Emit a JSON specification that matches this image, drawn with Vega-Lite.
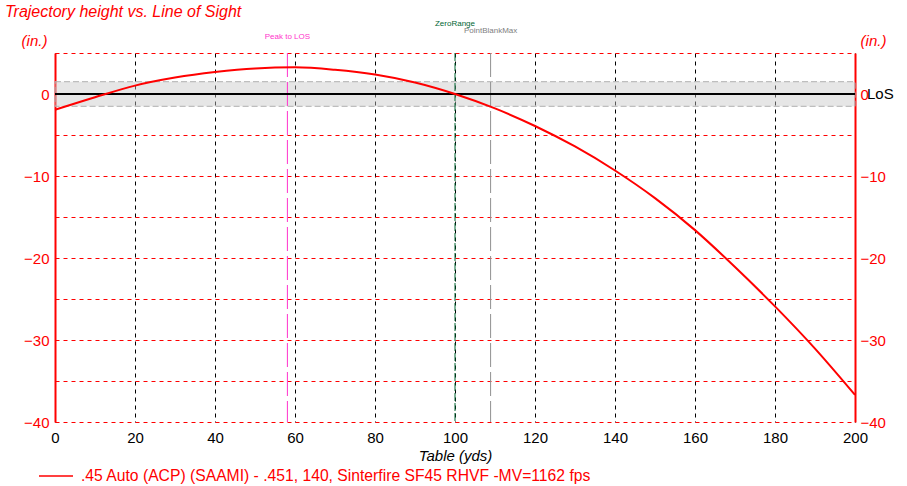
{
  "$schema": "https://vega.github.io/schema/vega-lite/v6.json",
  "width": 800,
  "height": 369,
  "autosize": {"type": "none"},
  "padding": {"left": 55, "top": 53, "right": 52, "bottom": 64},
  "background": "white",
  "config": {"font": "Liberation Sans", "view": {"stroke": null}},
  "title": {"text": "Trajectory height vs. Line of Sight", "anchor": "start", "frame": "group", "color": "#ff0000", "fontSize": 16, "fontStyle": "italic", "fontWeight": "normal", "dx": -50, "offset": 0},
  "datasets": {
    "traj": [
      {"range": 0, "height": -1.93, "series": ".45 Auto (ACP) (SAAMI) - .451, 140, Sinterfire SF45 RHVF -MV=1162 fps"},
      {"range": 10, "height": -0.4, "series": ".45 Auto (ACP) (SAAMI) - .451, 140, Sinterfire SF45 RHVF -MV=1162 fps"},
      {"range": 20, "height": 1.02, "series": ".45 Auto (ACP) (SAAMI) - .451, 140, Sinterfire SF45 RHVF -MV=1162 fps"},
      {"range": 30, "height": 2.0, "series": ".45 Auto (ACP) (SAAMI) - .451, 140, Sinterfire SF45 RHVF -MV=1162 fps"},
      {"range": 40, "height": 2.68, "series": ".45 Auto (ACP) (SAAMI) - .451, 140, Sinterfire SF45 RHVF -MV=1162 fps"},
      {"range": 50, "height": 3.12, "series": ".45 Auto (ACP) (SAAMI) - .451, 140, Sinterfire SF45 RHVF -MV=1162 fps"},
      {"range": 60, "height": 3.25, "series": ".45 Auto (ACP) (SAAMI) - .451, 140, Sinterfire SF45 RHVF -MV=1162 fps"},
      {"range": 70, "height": 2.95, "series": ".45 Auto (ACP) (SAAMI) - .451, 140, Sinterfire SF45 RHVF -MV=1162 fps"},
      {"range": 80, "height": 2.37, "series": ".45 Auto (ACP) (SAAMI) - .451, 140, Sinterfire SF45 RHVF -MV=1162 fps"},
      {"range": 90, "height": 1.4, "series": ".45 Auto (ACP) (SAAMI) - .451, 140, Sinterfire SF45 RHVF -MV=1162 fps"},
      {"range": 100, "height": 0.0, "series": ".45 Auto (ACP) (SAAMI) - .451, 140, Sinterfire SF45 RHVF -MV=1162 fps"},
      {"range": 110, "height": -1.76, "series": ".45 Auto (ACP) (SAAMI) - .451, 140, Sinterfire SF45 RHVF -MV=1162 fps"},
      {"range": 120, "height": -3.9, "series": ".45 Auto (ACP) (SAAMI) - .451, 140, Sinterfire SF45 RHVF -MV=1162 fps"},
      {"range": 130, "height": -6.4, "series": ".45 Auto (ACP) (SAAMI) - .451, 140, Sinterfire SF45 RHVF -MV=1162 fps"},
      {"range": 140, "height": -9.33, "series": ".45 Auto (ACP) (SAAMI) - .451, 140, Sinterfire SF45 RHVF -MV=1162 fps"},
      {"range": 150, "height": -12.7, "series": ".45 Auto (ACP) (SAAMI) - .451, 140, Sinterfire SF45 RHVF -MV=1162 fps"},
      {"range": 160, "height": -16.6, "series": ".45 Auto (ACP) (SAAMI) - .451, 140, Sinterfire SF45 RHVF -MV=1162 fps"},
      {"range": 170, "height": -21.1, "series": ".45 Auto (ACP) (SAAMI) - .451, 140, Sinterfire SF45 RHVF -MV=1162 fps"},
      {"range": 180, "height": -25.9, "series": ".45 Auto (ACP) (SAAMI) - .451, 140, Sinterfire SF45 RHVF -MV=1162 fps"},
      {"range": 190, "height": -31.05, "series": ".45 Auto (ACP) (SAAMI) - .451, 140, Sinterfire SF45 RHVF -MV=1162 fps"},
      {"range": 200, "height": -36.7, "series": ".45 Auto (ACP) (SAAMI) - .451, 140, Sinterfire SF45 RHVF -MV=1162 fps"}
    ],
    "markers": [
      {"name": "Peak to LOS", "range": 58.1, "labelY": 6.9},
      {"name": "ZeroRange", "range": 100, "labelY": 8.5},
      {"name": "PointBlankMax", "range": 108.9, "labelY": 7.7}
    ]
  },
  "resolve": {"axis": {"y": "independent"}},
  "layer": [
    {
      "data": {"values": [{"a": 0, "b": 200, "hi": 1.5, "lo": -1.5}]},
      "mark": {"type": "rect", "fill": "#c8c8c8", "fillOpacity": 0.45, "stroke": "#b0b0b0", "strokeDash": [6, 3], "strokeWidth": 1},
      "encoding": {
        "x": {"field": "a", "type": "quantitative", "scale": {"domain": [0, 200], "nice": false}, "axis": {
          "orient": "bottom", "title": "Table (yds)", "titleFontStyle": "italic", "titleFontWeight": "normal", "titleFontSize": 15, "titleColor": "#000000", "titlePadding": 3,
          "values": [0, 10, 20, 30, 40, 50, 60, 70, 80, 90, 100, 110, 120, 130, 140, 150, 160, 170, 180, 190, 200],
          "labelExpr": "datum.value % 20 === 0 ? datum.label : ''",
          "labelColor": "#000000", "labelFontSize": 15, "labelPadding": 8, "labelFlush": false, "labelOverlap": false, "ticks": false, "domain": false,
          "grid": true, "gridColor": "#000000", "gridDash": [4, 4], "gridWidth": 1
        }},
        "x2": {"field": "b"},
        "y": {"field": "hi", "type": "quantitative", "scale": {"domain": [-40, 5], "nice": false, "zero": false}, "axis": {
          "orient": "left", "title": "(in.)", "titleAngle": 0, "titleAlign": "center", "titleBaseline": "middle", "titleX": -21, "titleY": -13,
          "titleColor": "#ff0000", "titleFontStyle": "italic", "titleFontWeight": "normal", "titleFontSize": 15,
          "values": [-40, -35, -30, -25, -20, -15, -10, -5, 0, 5],
          "labelExpr": "datum.value % 10 === 0 ? datum.label : ''",
          "labelColor": "#ff0000", "labelFontSize": 15, "labelPadding": 6, "labelFlush": false, "labelOverlap": false, "ticks": false,
          "domain": true, "domainColor": "#ff0000", "domainWidth": 2,
          "grid": true, "gridColor": "#ff0000", "gridDash": [4, 4], "gridWidth": 1
        }},
        "y2": {"field": "lo"}
      }
    },
    {
      "data": {"name": "markers"},
      "mark": {"type": "rule", "strokeWidth": 1},
      "encoding": {
        "x": {"field": "range", "type": "quantitative"},
        "stroke": {"field": "name", "type": "nominal", "scale": {"domain": ["Peak to LOS", "ZeroRange", "PointBlankMax"], "range": ["#ff33cc", "#006633", "#909090"]}, "legend": null},
        "strokeDash": {"field": "name", "type": "nominal", "scale": {"domain": ["Peak to LOS", "ZeroRange", "PointBlankMax"], "range": [[24, 5], [8, 2], [24, 5]]}, "legend": null}
      }
    },
    {
      "data": {"name": "markers"},
      "mark": {"type": "text", "fontSize": 8, "align": "center", "baseline": "middle"},
      "encoding": {
        "x": {"field": "range", "type": "quantitative"},
        "y": {"field": "labelY", "type": "quantitative", "axis": null},
        "text": {"field": "name"},
        "fill": {"field": "name", "type": "nominal", "scale": {"domain": ["Peak to LOS", "ZeroRange", "PointBlankMax"], "range": ["#ff33cc", "#006633", "#808080"]}, "legend": null}
      }
    },
    {
      "data": {"values": [{"v": 0}]},
      "mark": {"type": "rule", "color": "#000000", "strokeWidth": 2},
      "encoding": {
        "y": {"field": "v", "type": "quantitative", "axis": {
          "orient": "right", "title": "(in.)", "titleAngle": 0, "titleAlign": "center", "titleBaseline": "middle", "titleX": 18, "titleY": -13,
          "titleColor": "#ff0000", "titleFontStyle": "italic", "titleFontWeight": "normal", "titleFontSize": 15,
          "values": [-40, -30, -20, -10, 0],
          "labelColor": "#ff0000", "labelFontSize": 15, "labelPadding": 5, "labelFlush": false, "labelOverlap": false, "ticks": false,
          "domain": true, "domainColor": "#ff0000", "domainWidth": 2, "grid": false
        }}
      }
    },
    {
      "data": {"values": [{"r": 200, "v": 0, "t": "LoS"}]},
      "mark": {"type": "text", "align": "left", "baseline": "middle", "dx": 12, "fontSize": 15, "color": "#000000"},
      "encoding": {
        "x": {"field": "r", "type": "quantitative"},
        "y": {"field": "v", "type": "quantitative", "axis": null},
        "text": {"field": "t"}
      }
    },
    {
      "data": {"name": "traj"},
      "mark": {"type": "line", "strokeWidth": 2, "interpolate": "monotone"},
      "encoding": {
        "x": {"field": "range", "type": "quantitative"},
        "y": {"field": "height", "type": "quantitative", "axis": null},
        "color": {"field": "series", "type": "nominal", "scale": {"range": ["#ff0000"]}, "legend": {
          "title": null, "orient": "none", "legendX": -17, "legendY": 405, "symbolType": "stroke", "symbolSize": 1156, "symbolStrokeWidth": 1.5, "symbolStrokeColor": "#ff0000",
          "labelColor": "#ff0000", "labelFontSize": 15.7, "labelLimit": 0, "labelOffset": 7
        }}
      }
    }
  ]
}
